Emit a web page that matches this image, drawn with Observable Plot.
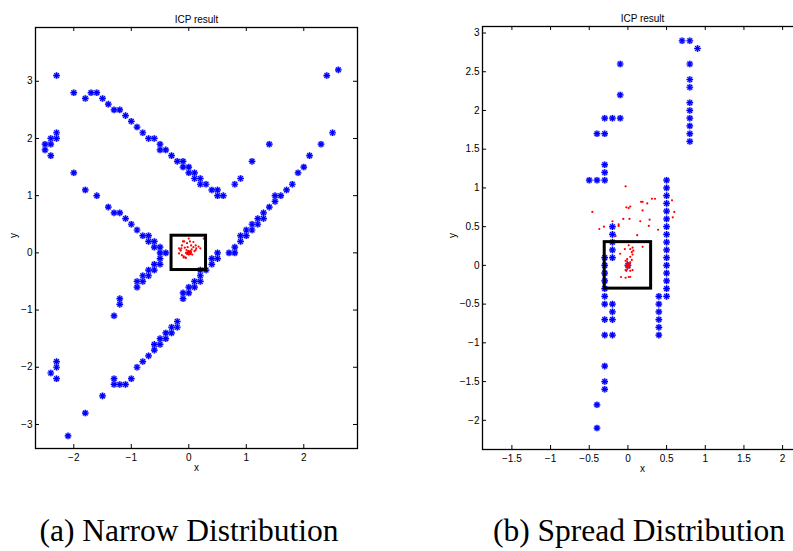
<!DOCTYPE html>
<html><head><meta charset="utf-8">
<script src="https://cdn.jsdelivr.net/npm/d3@7"></script>
<script src="https://cdn.jsdelivr.net/npm/@observablehq/plot@0.6"></script>
<style>
html,body{margin:0;padding:0;background:#fff;width:793px;height:551px;overflow:hidden;}
#root{position:relative;width:793px;height:551px;overflow:hidden;}
.panel{position:absolute;top:0;}
.cap{position:absolute;top:513px;font-family:"Liberation Serif","Times New Roman",serif;font-size:31.5px;line-height:36px;color:#000;white-space:nowrap;transform:translateX(-50%);}
</style></head><body><div id="root"></div>
<script>
// ---------- data ----------
const titles = ["ICP result", "ICP result"];
const captions = ["(a) Narrow Distribution", "(b) Spread Distribution"];
const boxHalf = 0.3;

const leftXTicks = [-2, -1, 0, 1, 2];
const leftYTicks = [-3, -2, -1, 0, 1, 2, 3];
const rightXTicks = [-1.5, -1, -0.5, 0, 0.5, 1, 1.5, 2];
const rightYTicks = [-2, -1.5, -1, -0.5, 0, 0.5, 1, 1.5, 2, 2.5, 3];

// model points (blue *), left panel
const leftModel = [
  [-2.3,3.1],[-2.0,2.8],[-1.8,2.7],[-1.7,2.8],[-1.6,2.8],[-1.5,2.7],[-1.4,2.6],[-1.3,2.5],[-1.2,2.5],
  [-1.1,2.4],[-1.0,2.3],[-0.9,2.2],[-0.8,2.1],[-0.7,2.0],[-0.6,2.0],[-0.5,1.9],[-0.5,1.8],[-0.4,1.8],
  [-0.3,1.7],[-0.2,1.6],[-0.1,1.6],[-0.1,1.5],[0.0,1.5],[0.0,1.4],[0.1,1.4],[0.1,1.3],[0.2,1.3],
  [0.2,1.2],[0.3,1.2],[0.4,1.1],[0.5,1.1],[0.5,1.0],[0.6,1.0],
  [0.8,1.2],[0.9,1.3],[1.1,1.6],[1.4,1.9],
  [-2.5,1.9],[-2.5,1.8],[-2.4,1.9],[-2.4,2.0],[-2.4,1.7],[-2.3,2.0],[-2.3,2.1],
  [2.4,3.1],[2.6,3.2],[2.5,2.1],
  [-2.0,1.4],[-1.8,1.1],[-1.6,1.0],[-1.4,0.8],[-1.3,0.7],[-1.2,0.7],[-1.1,0.6],[-1.0,0.5],[-0.9,0.4],
  [-0.8,0.3],[-0.7,0.3],[-0.7,0.2],[-0.6,0.2],[-0.6,0.1],[-0.5,0.1],[-0.5,0.0],[-0.4,0.0],[-0.5,-0.1],
  [-0.5,-0.2],[-0.6,-0.2],[-0.6,-0.3],[-0.7,-0.3],[-0.7,-0.4],[-0.8,-0.4],[-0.8,-0.5],[-0.9,-0.5],
  [-0.9,-0.6],[-1.2,-0.8],[-1.2,-0.9],[-1.3,-1.1],
  [0.4,-0.1],[0.5,-0.1],[0.5,0.0],[0.7,0.0],[0.8,0.0],[0.8,0.1],[0.9,0.2],[0.9,0.3],[1.0,0.3],
  [1.0,0.4],[1.1,0.4],[1.1,0.5],[1.2,0.5],[1.2,0.6],[1.3,0.6],[1.3,0.7],[1.4,0.8],[1.5,0.9],
  [1.5,1.0],[1.6,1.0],[1.7,1.1],[1.8,1.2],[1.9,1.4],[2.0,1.5],[2.1,1.7],[2.3,1.9],
  [0.4,-0.2],[0.3,-0.3],[0.2,-0.3],[0.2,-0.4],[0.2,-0.5],[0.1,-0.5],[0.1,-0.6],[0.0,-0.6],
  [0.0,-0.7],[-0.1,-0.7],[-0.1,-0.8],
  [-0.2,-1.2],[-0.2,-1.3],[-0.3,-1.3],[-0.3,-1.4],[-0.4,-1.4],[-0.4,-1.5],[-0.5,-1.5],[-0.5,-1.6],
  [-0.6,-1.6],[-0.6,-1.7],[-0.7,-1.8],[-0.8,-1.9],[-0.9,-2.0],[-1.0,-2.2],[-1.1,-2.3],[-1.2,-2.3],
  [-1.3,-2.3],[-1.3,-2.2],[-1.5,-2.5],[-1.8,-2.8],[-2.1,-3.2],
  [-2.4,-2.1],[-2.3,-2.2],[-2.3,-2.0],[-2.3,-1.9]
];

// transformed data points (red .), left panel
const leftData = [
  [0.00,0.25],[0.26,0.25],[-0.10,0.20],[-0.08,0.20],[-0.03,0.17],[0.08,0.19],[-0.12,0.13],[0.04,0.13],
  [0.12,0.13],[0.08,0.10],[0.17,0.11],[0.13,0.08],[0.20,0.08],[-0.15,0.05],[-0.07,0.09],[-0.17,0.08],
  [-0.14,0.04],[-0.17,-0.01],[-0.12,-0.04],[-0.09,-0.06],[-0.09,-0.08],[-0.05,-0.09],[-0.06,-0.08],
  [-0.05,0.00],[0.02,0.20],[-0.02,0.10],[0.05,0.06],[0.10,0.03],[-0.13,0.08],[0.06,-0.03],[0.03,-0.02],
  [0.12,0.05],[-0.04,0.05],
  [0.00,0.00],[0.01,0.01],[-0.01,0.01],[0.02,0.00],[-0.02,-0.01],[0.01,-0.02],[0.03,0.02],[-0.03,0.00],
  [0.00,0.03],[-0.01,-0.02],[0.02,0.02],[0.03,-0.01],[-0.02,0.02],[0.04,0.01],[-0.03,-0.02],[0.00,-0.03],
  [0.02,-0.02],[-0.01,0.03],[0.03,0.03]
];

// model points (blue *), right panel
const rightModel = [
  [-0.5,1.1],[-0.4,1.1],[-0.3,1.1],[-0.3,1.2],[-0.3,1.3],[-0.4,1.7],[-0.3,1.7],[-0.3,1.9],[-0.2,1.9],
  [-0.1,1.9],[-0.1,2.2],[-0.1,2.6],
  [0.7,2.9],[0.8,2.9],[0.9,2.8],[0.8,2.6],[0.8,2.4],[0.8,2.3],[0.8,2.1],[0.8,2.0],[0.8,1.9],[0.8,1.8],
  [0.8,1.7],[0.8,1.6],
  [0.5,1.1],[0.5,1.0],[0.5,0.9],[0.5,0.8],[0.5,0.7],[0.5,0.6],[0.5,0.5],[0.5,0.4],[0.5,0.3],[0.5,0.2],
  [0.5,0.1],[0.5,0.0],[0.5,-0.1],[0.5,-0.2],[0.5,-0.3],[0.5,-0.4],
  [0.4,-0.4],[0.4,-0.5],[0.4,-0.6],[0.4,-0.7],[0.4,-0.8],[0.4,-0.9],
  [-0.2,0.5],[-0.2,0.4],[-0.2,0.3],[-0.2,0.2],[-0.2,0.1],[-0.2,-0.5],[-0.2,-0.6],[-0.2,-0.7],[-0.2,-0.9],
  [-0.3,0.1],[-0.3,0.0],[-0.3,-0.1],[-0.3,-0.2],[-0.3,-0.3],[-0.3,-0.4],[-0.3,-0.5],[-0.3,-0.7],
  [-0.3,-0.9],[-0.3,-1.3],[-0.3,-1.5],[-0.3,-1.6],
  [-0.4,-1.8],[-0.4,-2.1],[0.0,0.0]
];

// transformed data points (red .), right panel
const rightData = [
  [-0.03,1.02],[-0.46,0.69],[-0.37,0.47],[-0.31,0.50],[-0.20,0.57],[-0.12,0.51],[-0.12,0.53],[-0.16,0.38],
  [-0.06,0.60],[0.02,0.60],[-0.02,0.75],[0.01,0.74],[0.03,0.76],[0.17,0.82],[0.19,0.82],[0.25,0.80],
  [0.19,0.71],[0.31,0.86],[0.35,0.86],[0.57,0.84],[0.60,0.69],[0.58,0.62],[0.28,0.59],[0.27,0.51],
  [0.16,0.57],[0.12,0.39],[0.39,0.46],
  [0.01,0.26],[0.19,0.24],[0.06,0.23],[-0.04,0.21],[0.03,0.21],[0.07,0.19],[0.05,0.17],[0.06,0.14],
  [-0.10,0.15],[0.03,0.11],[-0.01,0.08],[-0.03,0.06],[0.03,0.04],[0.05,0.07],[-0.01,0.05],
  [0.02,-0.03],[-0.02,-0.07],[0.03,-0.07],[-0.03,-0.06],[0.06,-0.06],[-0.01,-0.05],
  [-0.09,-0.15],[-0.03,-0.16],[0.01,-0.15],[0.03,-0.15],
  [0.00,0.00],[0.01,0.01],[-0.01,0.01],[0.02,0.00],[-0.02,-0.01],[0.01,-0.02],[0.02,0.02],[0.00,0.03]
];

// ---------- drawing ----------
const asterisk = {
  draw(context, size) {
    const r = Math.sqrt(size / Math.PI);
    const d = r * Math.SQRT1_2;
    context.moveTo(-r, 0); context.lineTo(r, 0);
    context.moveTo(0, -r); context.lineTo(0, r);
    context.moveTo(-d, -d); context.lineTo(d, d);
    context.moveTo(-d, d); context.lineTo(d, -d);
  }
};

const fmt = d3.format("~g");

function panel(cfg) {
  const {width, height, ml, mr, mt, mb, xDomain, yDomain, xTicks, yTicks, model, data, title, yLabelDx} = cfg;
  const fw = width - ml - mr, fh = height - mt - mb;
  const tick = 4;
  return Plot.plot({
    width, height,
    marginLeft: ml, marginRight: mr, marginTop: mt, marginBottom: mb,
    x: {domain: xDomain, axis: null},
    y: {domain: yDomain, axis: null},
    style: {fontFamily: "'Liberation Sans', Arial, Helvetica, sans-serif", fontSize: "10px", background: "white", color: "black", overflow: "visible"},
    marks: [
      Plot.dot(model, {x: d => d[0], y: d => d[1], r: 3.4, fill: "#0000ff", fillOpacity: 0.3, stroke: "none"}),
      Plot.dot(model, {x: d => d[0], y: d => d[1], r: 3.3, symbol: asterisk, stroke: "#0000ff", strokeWidth: 1.2, fill: "none"}),
      Plot.dot(data, {x: d => d[0], y: d => d[1], r: 1.1, fill: "#ff0000", stroke: "none"}),
      Plot.rect([boxHalf], {x1: d => -d, x2: d => d, y1: d => -d, y2: d => d, stroke: "black", strokeWidth: 3, fill: "none"}),
      Plot.frame({stroke: "black", strokeWidth: 1.3}),
      Plot.tickX(xTicks, {x: d => d, insetTop: fh - tick, stroke: "black"}),
      Plot.tickX(xTicks, {x: d => d, insetBottom: fh - tick, stroke: "black"}),
      Plot.tickY(yTicks, {y: d => d, insetRight: fw - tick, stroke: "black"}),
      Plot.tickY(yTicks, {y: d => d, insetLeft: fw - tick, stroke: "black"}),
      Plot.axisX({ticks: xTicks, tickFormat: fmt, tickSize: 0, tickPadding: 5, label: null, fontSize: 10}),
      Plot.axisY({ticks: yTicks, tickFormat: fmt, tickSize: 0, tickPadding: 3, label: null, fontSize: 10}),
      Plot.text([title], {frameAnchor: "top", dy: -12, fontSize: 10}),
      Plot.text(["x"], {frameAnchor: "bottom", dy: 22, fontSize: 10}),
      Plot.text(["y"], {frameAnchor: "left", dx: yLabelDx, rotate: -90, fontSize: 10})
    ]
  });
}

const root = document.getElementById("root");

const left = panel({
  width: 380, height: 480, ml: 35, mr: 23, mt: 27, mb: 32,
  xDomain: [-2.666, 2.934], yDomain: [-3.42, 3.94],
  xTicks: leftXTicks, yTicks: leftYTicks, model: leftModel, data: leftData,
  title: titles[0], yLabelDx: -22
});
left.classList.add("panel"); left.style.left = "0px";
root.appendChild(left);

const right = panel({
  width: 370, height: 480, ml: 42, mr: 8, mt: 26, mb: 31,
  xDomain: [-1.88, 2.257], yDomain: [-2.377, 3.084],
  xTicks: rightXTicks, yTicks: rightYTicks, model: rightModel, data: rightData,
  title: titles[1], yLabelDx: -30
});
right.classList.add("panel"); right.style.left = "440px";
root.appendChild(right);

const capPos = [189, 639];
captions.forEach((c, i) => {
  const div = document.createElement("div");
  div.className = "cap";
  div.style.left = capPos[i] + "px";
  div.textContent = c;
  root.appendChild(div);
});
</script></body></html>
